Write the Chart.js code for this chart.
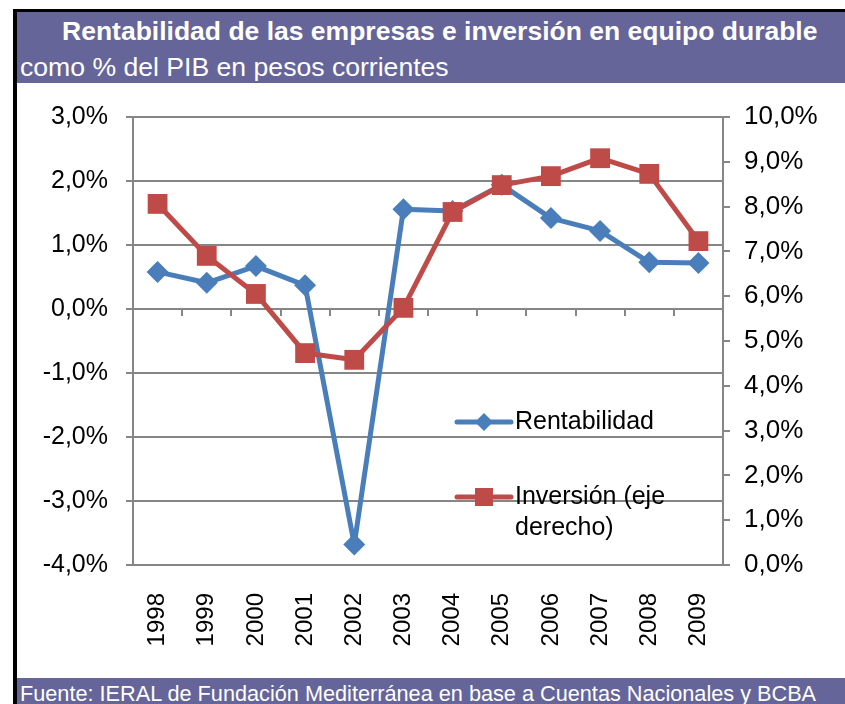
<!DOCTYPE html>
<html>
<head>
<meta charset="utf-8">
<script src="https://cdn.jsdelivr.net/npm/chart.js@4/dist/chart.umd.min.js"></script>
<style>
  body { margin: 0; background: #fff; font-family: "Liberation Sans", Arial, sans-serif; }
  .blk { position: absolute; background: #000; }
  #head { position: absolute; left: 17px; top: 12px; width: 828px; height: 71px; background: #65659a; color: #fff; }
  #title { position: absolute; left: 45px; top: 4px; font-size: 26.5px; font-weight: bold; white-space: nowrap; }
  #sub { position: absolute; left: 3px; top: 40px; font-size: 26.6px; white-space: nowrap; }
  #foot { position: absolute; left: 17px; top: 678px; width: 828px; height: 26px; background: #65659a; color: #fff;
          font-size: 21.7px; line-height: 31px; padding-left: 3px; box-sizing: border-box; white-space: nowrap; overflow: hidden; }
  #wrap { position: absolute; left: 17px; top: 83px; width: 828px; height: 595px; }
</style>
</head>
<body>
<div class="blk" style="left:13px;top:9px;width:832px;height:3px"></div>
<div class="blk" style="left:13px;top:9px;width:4px;height:695px"></div>
<div id="head">
  <div id="title">Rentabilidad de las empresas e inversión en equipo durable</div>
  <div id="sub">como % del PIB en pesos corrientes</div>
</div>
<div id="wrap"><canvas id="chart"></canvas></div>
<div id="foot">Fuente: IERAL de Fundación Mediterránea en base a Cuentas Nacionales y BCBA</div>
<script>
// datos
const years = ['1998', '1999', '2000', '2001', '2002', '2003', '2004', '2005', '2006', '2007', '2008', '2009'];
const rentabilidad = [0.58, 0.41, 0.67, 0.37, -3.68, 1.56, 1.53, 1.94, 1.42, 1.22, 0.73, 0.72];
const inversion = [8.06, 6.90, 6.05, 4.73, 4.58, 5.74, 7.88, 8.48, 8.68, 9.08, 8.73, 7.23];

const gris = '#868686';
const azul = '#4a7ebb';
const rojo = '#be4b48';
const fuente = '"Liberation Sans", Arial, sans-serif';

const pct = v => v.toFixed(1).replace('.', ',') + '%';

// eje horizontal en el cero con marcas entre categorías
const ejeCero = {
  id: 'ejeCero',
  beforeDatasetsDraw(chart) {
    const { ctx, scales: { x, y } } = chart;
    const y0 = y.getPixelForValue(0);
    ctx.save();
    ctx.strokeStyle = gris;
    ctx.lineWidth = 2;
    ctx.beginPath();
    for (let i = 1; i < years.length; i++) {
      const bx = Math.round((x.getPixelForTick(i - 1) + x.getPixelForTick(i)) / 2);
      ctx.moveTo(bx, y0);
      ctx.lineTo(bx, y0 + 7);
    }
    ctx.stroke();
    ctx.restore();
  }
};

// leyenda dentro del área del gráfico
const leyenda = {
  id: 'leyenda',
  afterDatasetsDraw(chart) {
    const ctx = chart.ctx;
    const filas = [
      { ds: 0, y: 339, lineas: ['Rentabilidad'] },
      { ds: 1, y: 414, lineas: ['Inversión (eje', 'derecho)'] }
    ];
    ctx.save();
    filas.forEach(f => {
      const d = chart.data.datasets[f.ds];
      ctx.strokeStyle = d.borderColor;
      ctx.lineWidth = 5;
      ctx.lineCap = 'round';
      ctx.beginPath();
      ctx.moveTo(440, f.y);
      ctx.lineTo(494, f.y);
      ctx.stroke();
      ctx.fillStyle = d.backgroundColor;
      ctx.beginPath();
      if (d.pointStyle === 'rectRot') {
        ctx.moveTo(467, f.y - 9); ctx.lineTo(476, f.y); ctx.lineTo(467, f.y + 9); ctx.lineTo(458, f.y);
      } else {
        ctx.rect(458, f.y - 9, 18, 18);
      }
      ctx.closePath();
      ctx.fill();
      ctx.fillStyle = '#000';
      ctx.font = '25px ' + fuente;
      ctx.textBaseline = 'middle';
      f.lineas.forEach((t, i) => ctx.fillText(t, 498, f.y + i * 31));
    });
    ctx.restore();
  }
};

new Chart(document.getElementById('chart'), {
  type: 'line',
  data: {
    labels: years,
    datasets: [{
      label: 'Rentabilidad',
      data: rentabilidad,
      yAxisID: 'y',
      order: 1,
      borderColor: azul,
      backgroundColor: azul,
      borderWidth: 5,
      borderJoinStyle: 'round',
      pointStyle: 'rectRot',
      pointRadius: 11,
      pointBorderWidth: 0,
      pointHoverRadius: 11
    }, {
      label: 'Inversión (eje derecho)',
      data: inversion,
      yAxisID: 'y1',
      order: 0,
      borderColor: rojo,
      backgroundColor: rojo,
      borderWidth: 5,
      borderJoinStyle: 'round',
      pointStyle: 'rect',
      pointRadius: 14,
      pointBorderWidth: 0,
      pointHoverRadius: 14
    }]
  },
  options: {
    responsive: true,
    maintainAspectRatio: false,
    animation: false,
    layout: { padding: { top: 34, left: 0, right: 0, bottom: 0 } },
    plugins: { legend: { display: false }, tooltip: { enabled: false }, title: { display: false } },
    scales: {
      x: {
        offset: true,
        grid: { display: false },
        border: { display: false },
        ticks: { color: '#000', font: { family: fuente, size: 24 }, minRotation: 90, maxRotation: 90, padding: 20, autoSkip: false },
        afterFit: s => { s.height = 113; }
      },
      y: {
        position: 'left',
        min: -4, max: 3,
        ticks: { stepSize: 1, color: '#000', font: { family: fuente, size: 25 }, padding: 18, callback: v => pct(v) },
        grid: { color: gris, lineWidth: 2, tickLength: 7 },
        border: { color: gris, width: 2 },
        afterFit: s => { s.width = 116; }
      },
      y1: {
        position: 'right',
        min: 0, max: 10,
        ticks: { stepSize: 1, color: '#000', font: { family: fuente, size: 26 }, padding: 14, callback: v => pct(v) },
        grid: { drawOnChartArea: false, color: gris, lineWidth: 2, tickLength: 7 },
        border: { color: gris, width: 2 },
        afterFit: s => { s.width = 122; }
      }
    }
  },
  plugins: [ejeCero, leyenda]
});
</script>
</body>
</html>
